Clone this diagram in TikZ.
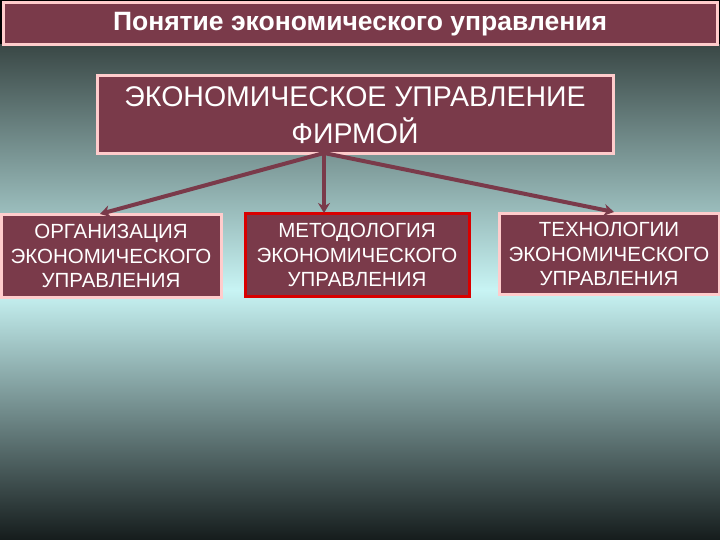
\documentclass[tikz,border=0pt]{standalone}
\usepackage{fontspec}
\setmainfont{Liberation Sans}
\usetikzlibrary{arrows.meta}
\begin{document}
\begin{tikzpicture}[x=1pt,y=-1pt,
  bx/.style={draw=pink!80!white,line width=3pt,fill=maroon,text=white,align=center,inner sep=0pt},
  arr/.style={draw=maroon,line width=4pt,-{Stealth[length=10pt,width=12pt]}}]
\definecolor{maroon}{HTML}{7A3A4A}
\definecolor{topc}{HTML}{3A4846}
\definecolor{midc}{HTML}{C8F4F4}
\definecolor{botc}{HTML}{151C1C}
\useasboundingbox (0,0) rectangle (720,540);
\fill[black] (0,0) rectangle (720,540);
\shade[top color=topc,bottom color=midc] (0,45) rectangle (720,290);
\shade[top color=midc,bottom color=botc] (0,290) rectangle (720,540);
\node[bx,minimum width=714pt,minimum height=42pt,font=\fontsize{26.5}{28}\selectfont\bfseries] (title) at (360,24) {Понятие экономического управления};
\node[bx,minimum width=516pt,minimum height=78pt,font=\fontsize{28.5}{37}\selectfont] (main) at (355,115) {ЭКОНОМИЧЕСКОЕ УПРАВЛЕНИЕ\\ФИРМОЙ};
\node[bx,minimum width=220pt,minimum height=82pt,font=\fontsize{20.5}{24.5}\selectfont] (l) at (111,256) {ОРГАНИЗАЦИЯ\\ЭКОНОМИЧЕСКОГО\\УПРАВЛЕНИЯ};
\node[bx,draw=red!85!black,minimum width=224pt,minimum height=82pt,font=\fontsize{20.5}{24.5}\selectfont] (m) at (357,255) {МЕТОДОЛОГИЯ\\ЭКОНОМИЧЕСКОГО\\УПРАВЛЕНИЯ};
\node[bx,minimum width=220pt,minimum height=81pt,font=\fontsize{20.5}{24.5}\selectfont] (r) at (609,254) {ТЕХНОЛОГИИ\\ЭКОНОМИЧЕСКОГО\\УПРАВЛЕНИЯ};
\coordinate (o) at (324,153);
\coordinate (lt) at (100,214);
\coordinate (mt) at (324,213);
\coordinate (rt) at (614,212);
\draw[arr] (o) -- (lt);
\draw[arr] (o) -- (mt);
\draw[arr] (o) -- (rt);
\end{tikzpicture}
\end{document}
